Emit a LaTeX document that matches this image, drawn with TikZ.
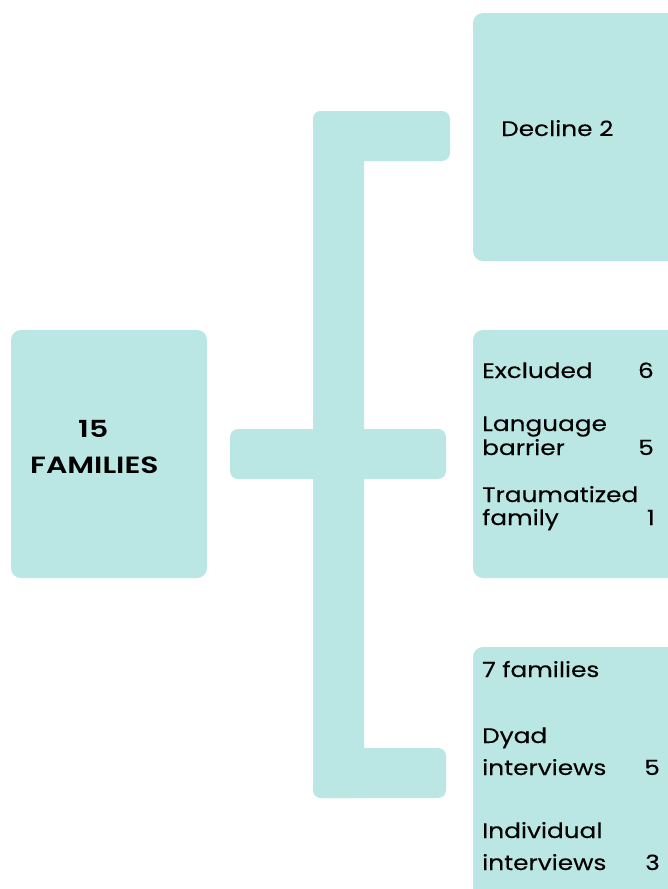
\documentclass[tikz,border=0pt]{standalone}
\usepackage{fontspec}
\setmainfont{Poppins}[FakeStretch=1.18,FakeBold=0.2]
\newfontfamily\boldwide{Poppins SemiBold}[FakeStretch=1.27]
\definecolor{boxteal}{RGB}{186,230,228}
\begin{document}
\begin{tikzpicture}[x=1pt,y=-1pt,
  card/.style={fill=boxteal,draw=none,rounded corners=10pt},
  bar/.style={fill=boxteal,draw=none,rounded corners=8pt},
  lbl/.style={anchor=base west,inner sep=0pt,font=\fontsize{21}{24}\selectfont},
  num/.style={anchor=base east,inner sep=0pt,font=\fontsize{21}{24}\selectfont},
  big/.style={anchor=base west,inner sep=0pt,font=\boldwide\fontsize{23.5}{26}\selectfont}]
\useasboundingbox (0,0) rectangle (668,889);
% cards
\fill[card] (11,330) rectangle (207,578);
\fill[card] (473,13) rectangle (678,261);
\fill[card] (473,330) rectangle (678,578);
\fill[card] (473,647) rectangle (678,905);
% bracket
\fill[bar] (313,111) rectangle (364,798);
\fill[bar] (313,111) rectangle (450,161);
\fill[bar] (313,748) rectangle (446,798);
\fill[bar] (230,429) rectangle (446,479);
% texts
\node[big] (n15) at (78,437) {15};
\node[big] (fam) at (30,473) {FAMILIES};
\node[lbl] (dec) at (501,136) {Decline 2};
\node[lbl] (exc) at (482,378) {Excluded};
\node[num] (exn) at (654,378) {6};
\node[lbl] (lan) at (482,431) {Language};
\node[lbl] (bar) at (482,455) {barrier};
\node[num] (ban) at (654,455) {5};
\node[lbl] (tra) at (482,502) {Traumatized};
\node[lbl] (fmy) at (482,525) {family};
\node[num] (fmn) at (655,525) {1};
\node[lbl] (sev) at (482,677) {7 families};
\node[lbl] (dya) at (482,743) {Dyad};
\node[lbl] (int1) at (482,775) {interviews};
\node[num] (inn1) at (660,775) {5};
\node[lbl] (ind) at (482,838) {Individual};
\node[lbl] (int2) at (482,870) {interviews};
\node[num] (inn2) at (660,870) {3};
\end{tikzpicture}
\end{document}
